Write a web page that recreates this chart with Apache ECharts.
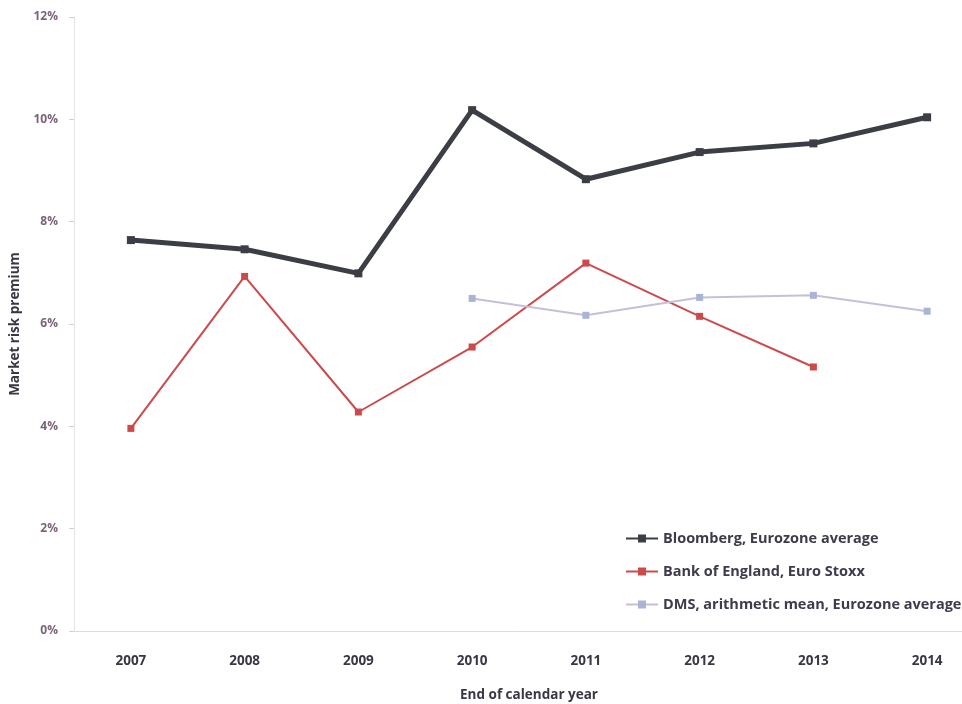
<!DOCTYPE html>
<html><head><meta charset="utf-8">
<script src="https://cdn.jsdelivr.net/npm/echarts@6/dist/echarts.min.js"></script>
<style>html,body{margin:0;padding:0;background:#fff}#c{width:962px;height:704px}</style>
</head><body><div id="c"></div>
<script>
const years = ['2007','2008','2009','2010','2011','2012','2013','2014'];
const bloomberg = [7.64, 7.46, 6.99, 10.18, 8.83, 9.36, 9.53, 10.04];
const boe = [3.96, 6.93, 4.28, 5.55, 7.19, 6.15, 5.16, null];
const dms = [null, null, null, 6.50, 6.17, 6.52, 6.56, 6.25];
const yTicks = [0, 2, 4, 6, 8, 10, 12];

const chart = echarts.init(document.getElementById('c'));
const font = 'Open Sans';
chart.setOption({
  animation: false,
  grid: {left: 74, width: 910, top: 17, bottom: 73, outerBoundsMode: 'none', containLabel: false},
  legend: {
    orient: 'vertical', left: 620, top: 526, itemWidth: 32, itemHeight: 10, itemGap: 18,
    textStyle: {fontFamily: font, fontSize: 14.5, color: '#3f3a4c', fontWeight: 'bold'},
    data: ['Bloomberg, Eurozone average', 'Bank of England, Euro Stoxx', 'DMS, arithmetic mean, Eurozone average']
  },
  xAxis: {
    type: 'category', data: years, boundaryGap: true,
    name: 'End of calendar year', nameLocation: 'middle', nameGap: 57,
    nameTextStyle: {fontFamily: font, fontSize: 13.5, fontWeight: 'bold', color: '#3a3644'},
    axisLine: {lineStyle: {color: '#dcdcdc'}},
    axisTick: {show: false},
    axisLabel: {margin: 23, fontFamily: font, fontSize: 13.5, fontWeight: 'bold', color: '#3a3644'}
  },
  yAxis: {
    type: 'value', min: 0, max: 12, interval: 2,
    name: 'Market risk premium', nameLocation: 'middle', nameGap: 50, nameRotate: 90,
    nameTextStyle: {fontFamily: font, fontSize: 13.5, fontWeight: 'bold', color: '#3a3644'},
    axisLine: {show: true, lineStyle: {color: '#e4e4e4'}},
    axisTick: {show: true, length: 5, lineStyle: {color: '#d0d0d0'}},
    splitLine: {show: false},
    axisLabel: {margin: 16, fontFamily: font, fontSize: 12, fontWeight: 'bold', color: '#7a6478',
      formatter: v => yTicks.includes(v) ? v + '%' : ''}
  },
  series: [
    {name: 'Bloomberg, Eurozone average', type: 'line', data: bloomberg,
      symbol: 'rect', symbolSize: 8, lineStyle: {width: 5, color: '#3b3e44'},
      itemStyle: {color: '#3b3e44'}},
    {name: 'Bank of England, Euro Stoxx', type: 'line', data: boe,
      symbol: 'rect', symbolSize: 7, lineStyle: {width: 2, color: '#cc4a4c'},
      itemStyle: {color: '#cc4a4c'}},
    {name: 'DMS, arithmetic mean, Eurozone average', type: 'line', data: dms,
      symbol: 'rect', symbolSize: 7, lineStyle: {width: 2, color: '#c4c0d8'},
      itemStyle: {color: '#aab4d4'}}
  ]
});
</script></body></html>
